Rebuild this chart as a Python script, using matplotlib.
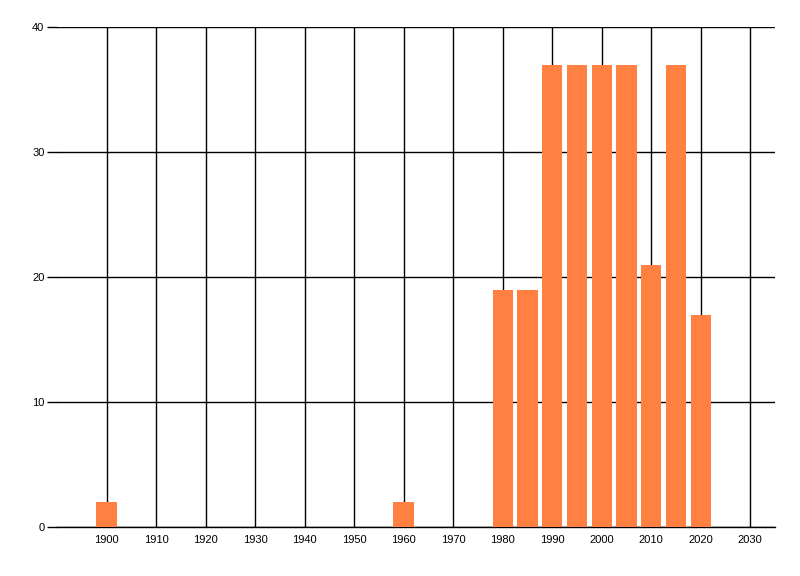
import matplotlib
matplotlib.use('Agg')
import matplotlib.pyplot as plt

# Chart data
years = [1900, 1960, 1980, 1985, 1990, 1995, 2000, 2005, 2010, 2015, 2020]
counts = [2, 2, 19, 19, 37, 37, 37, 37, 21, 37, 17]
x_ticks = list(range(1900, 2031, 10))
y_ticks = [0, 10, 20, 30, 40]

plt.rcParams['font.family'] = ['Liberation Sans', 'DejaVu Sans']

fig = plt.figure(figsize=(8, 5.76), dpi=100)
ax = fig.add_axes([57 / 800, 1 - 527 / 576, 718 / 800, 500 / 576])

ax.bar(years, counts, width=4.1, color='#FF8040', zorder=3)

ax.set_xlim(1890, 2035)
ax.set_ylim(0, 40)
ax.set_xticks(x_ticks)
ax.set_yticks(y_ticks)
ax.grid(True, color='black', linewidth=1, zorder=0)
ax.set_axisbelow(True)

for side in ['top', 'right', 'left']:
    ax.spines[side].set_visible(False)
ax.spines['bottom'].set_linewidth(1)

ax.tick_params(axis='x', length=0, pad=6, labelsize=8)
ax.tick_params(axis='y', length=7, width=1, pad=2, labelsize=8)

fig.savefig('out.png', dpi=100)
